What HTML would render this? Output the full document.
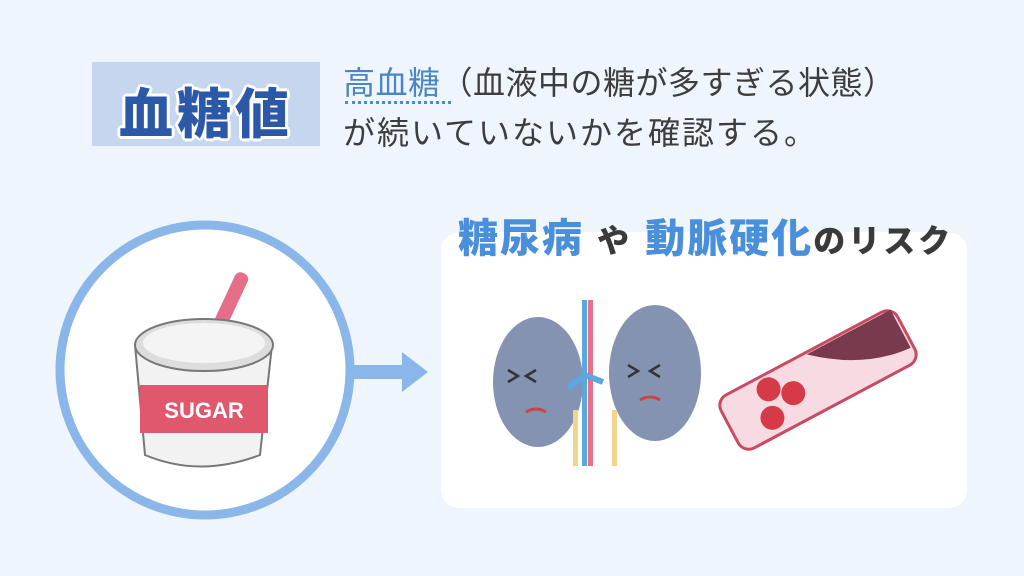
<!DOCTYPE html>
<html><head><meta charset="utf-8"><style>
body{margin:0;width:1024px;height:576px;background:#eef5fd;position:relative;overflow:hidden;font-family:"Liberation Sans","Noto Sans CJK JP",sans-serif}
.lab{position:absolute;left:92px;top:62px;width:228px;height:84px;background:#c6d6ef}
.lab span{position:absolute;left:0;width:228px;top:8px;text-align:center;font-size:54px;font-weight:900;color:#2c58a8;letter-spacing:4px;text-shadow:2px 2px 0 #fff,-2px -2px 0 #fff,2px -2px 0 #fff,-2px 2px 0 #fff,0 3px 0 #fff,3px 0 0 #fff,0 -3px 0 #fff,-3px 0 0 #fff}
.t{position:absolute;left:343px;font-size:32px;color:#3d3d3d;white-space:nowrap;letter-spacing:2px}
.dots{position:absolute;left:345px;top:101px;width:106px;border-top:3px dotted #4a8ad8}
.panel{position:absolute;left:441px;top:232px;width:526px;height:276px;background:#fff;border-radius:18px}
.title{position:absolute;left:458px;top:206px;font-size:40px;font-weight:900;color:#4a8fdc;white-space:nowrap;letter-spacing:2px}
.title b{color:#3a3a3a;font-size:32px;letter-spacing:3px}
</style></head><body>
<div class="lab"><span>血糖値</span></div>
<div class="t" style="top:58px;letter-spacing:0.5px"><span style="color:#4a85c8">高血糖</span>（血液中の糖が多すぎる状態）</div>
<div class="dots"></div>
<div class="t" style="top:108px">が続いていないかを確認する。</div>
<div class="panel"></div>
<div class="title">糖尿病 <b>や</b> 動脈硬化<b>のリスク</b></div>
<svg width="1024" height="576" style="position:absolute;left:0;top:0">
<circle cx="205" cy="370" r="145" fill="#fff" stroke="#8ab6ea" stroke-width="9"/>
<rect x="350" y="365" width="55" height="14" fill="#8ab6ea"/>
<polygon points="402,352 428,372 402,392" fill="#8ab6ea"/>
<rect x="222" y="270" width="14" height="70" rx="6" fill="#e56f88" transform="rotate(25 229 305)"/>
<path d="M135 345 L145 455 Q200 478 260 455 L272 345 Z" fill="#f2f2f2" stroke="#777" stroke-width="2"/>
<ellipse cx="204" cy="345" rx="69" ry="26" fill="#ddd" stroke="#777" stroke-width="2"/>
<ellipse cx="204" cy="343" rx="61" ry="20" fill="#f4f4f4"/>
<rect x="140" y="385" width="128" height="48" fill="#e0586d"/>
<text x="204" y="418" text-anchor="middle" font-size="22" font-weight="bold" fill="#fff" font-family="Liberation Sans">SUGAR</text>
<ellipse cx="538" cy="382" rx="45" ry="65" fill="#8593b3"/>
<ellipse cx="655" cy="373" rx="46" ry="68" fill="#8593b3"/>
<rect x="582" y="300" width="5" height="166" fill="#5aa8e0"/>
<rect x="588" y="300" width="5" height="166" fill="#e8708a"/>
<rect x="573" y="410" width="5" height="56" fill="#f0d58a"/>
<rect x="612" y="410" width="5" height="56" fill="#f0d58a"/>
<path d="M568 388 L585 375 L603 382" stroke="#5aa8e0" stroke-width="6" fill="none"/>
<path d="M526 412 q10 -6 20 0 M640 400 q10 -6 20 0" stroke="#c44" stroke-width="3" fill="none"/>
<path d="M508 370 l10 6 -10 6 M536 370 l-10 6 10 6 M628 365 l10 6 -10 6 M660 365 l-10 6 10 6" stroke="#333" stroke-width="2.5" fill="none"/>
<g transform="rotate(-28 818 380)">
<rect x="718" y="350" width="200" height="60" rx="12" fill="#f8dbe2" stroke="#c84b62" stroke-width="3"/>
<path d="M820 352 L915 352 L915 395 Q865 392 820 352 Z" fill="#7a3a4e"/>
<circle cx="760" cy="392" r="12" fill="#d63a48"/>
<circle cx="790" cy="380" r="12" fill="#d63a48"/>
<circle cx="770" cy="365" r="12" fill="#d63a48"/>
</g>
</svg>
</body></html>
